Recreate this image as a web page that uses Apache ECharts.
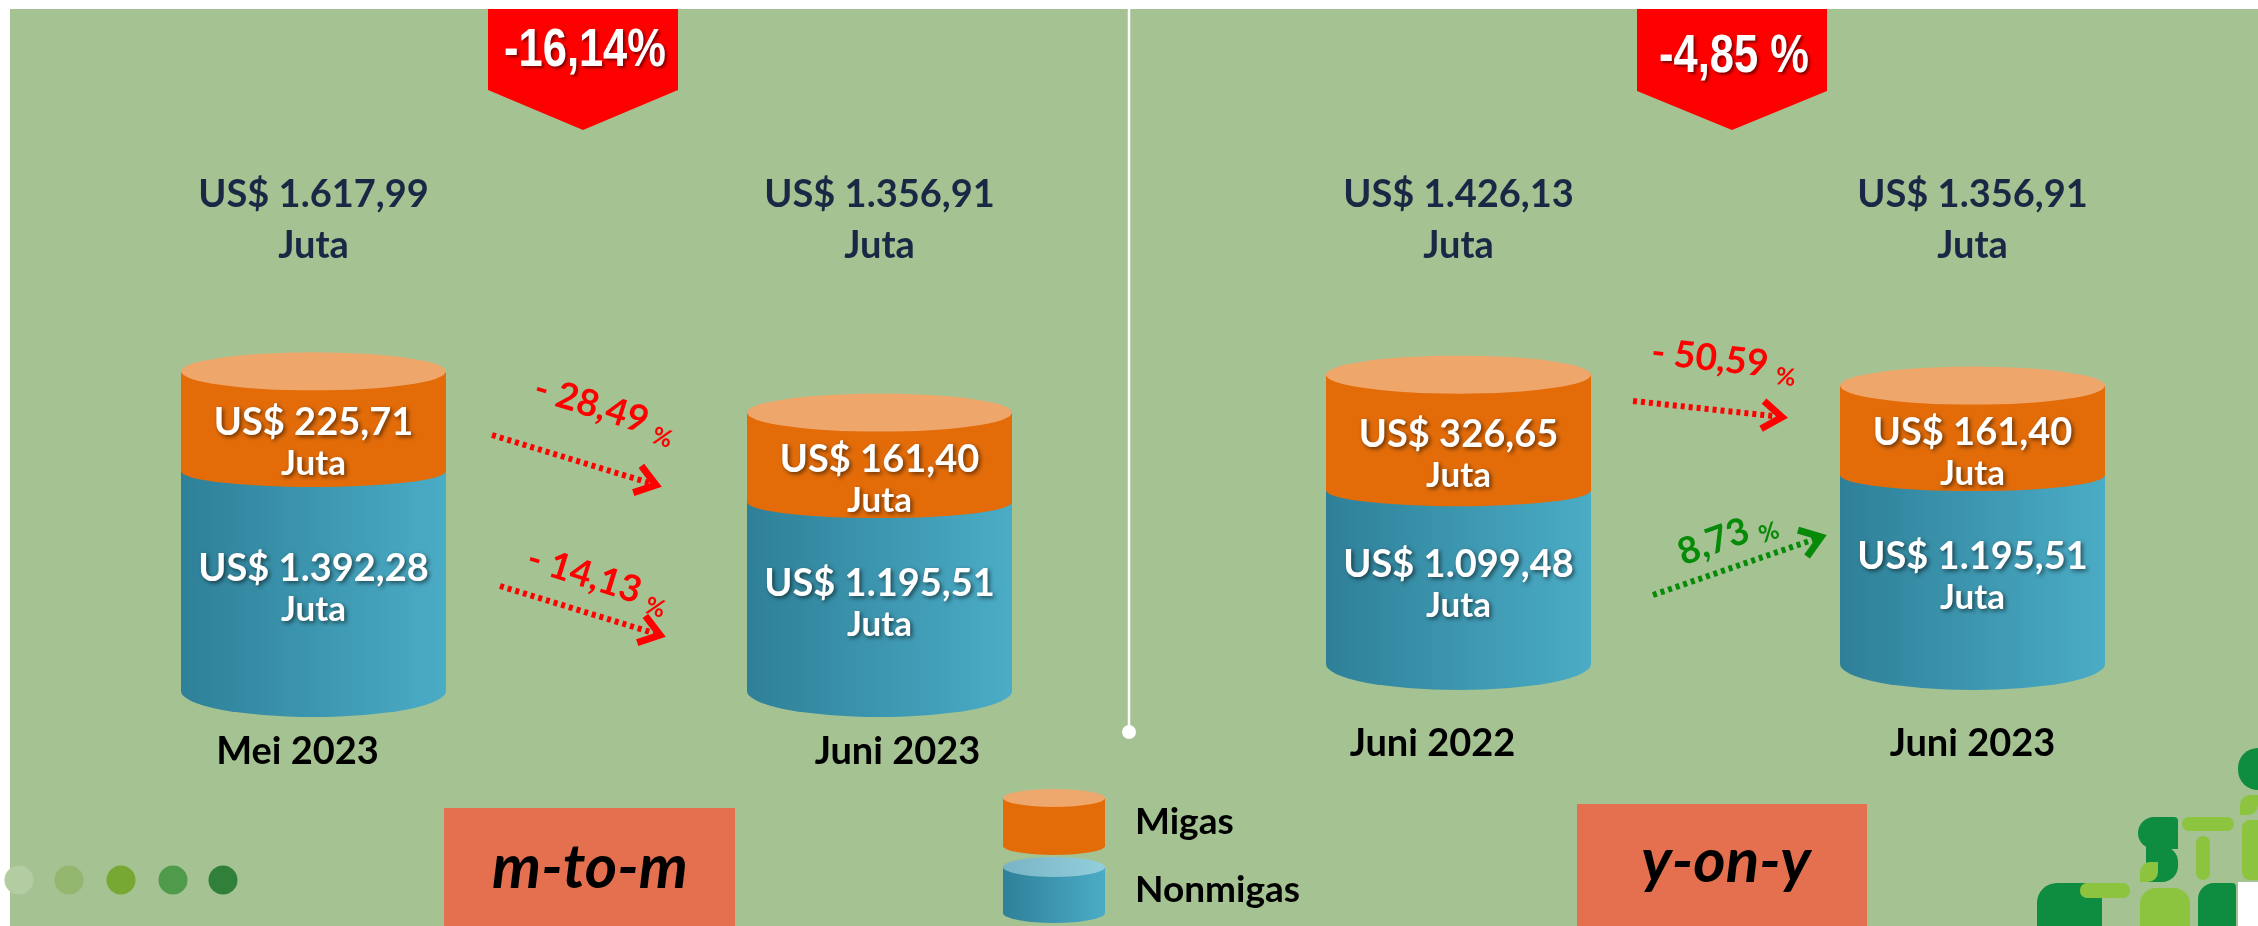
<!DOCTYPE html>
<html><head><meta charset="utf-8">
<script src="https://cdn.jsdelivr.net/npm/echarts@6/dist/echarts.min.js"></script>
<style>html,body{margin:0;padding:0;background:#fff}#c{width:2258px;height:926px}</style>
</head><body><div id="c"></div>
<script>
// ---------------- DATA ----------------
const categoriesLeft = ['Mei 2023', 'Juni 2023'];
const categoriesRight = ['Juni 2022', 'Juni 2023'];
const migasLeft = [225.71, 161.40];
const nonmigasLeft = [1392.28, 1195.51];
const totalLeft = [1617.99, 1356.91];
const migasRight = [326.65, 161.40];
const nonmigasRight = [1099.48, 1195.51];
const totalRight = [1426.13, 1356.91];
const totalChange = [-16.14, -4.85];      // m-to-m, y-on-y
const migasChange = [-28.49, -50.59];     // m-to-m, y-on-y
const nonmigasChange = [-14.13, 8.73];    // m-to-m, y-on-y
const seriesNames = ['Migas', 'Nonmigas'];
const panelNames = ['m-to-m', 'y-on-y'];
const unitLabel = 'Juta';
const currency = 'US$ ';

// ---------------- HELPERS ----------------
function fmtNum(v) {
  const parts = Math.abs(v).toFixed(2).split('.');
  const ip = parts[0].replace(/\B(?=(\d{3})+(?!\d))/g, '.');
  return (v < 0 ? '-' : '') + ip + ',' + parts[1];
}
const RX = 132.5, RY_TOP = 19, RY_MID = 16, RY_BOT = 26, CAP_PAD = 64;
const LABEL_FONT = 'bold 38px Lato', JUTA_FONT = 'bold 35px Lato';
const TOTAL_Y1 = 195, TOTAL_Y2 = 246;
const NAVY = '#1B2845';

function txt(text, x, y, font, fill, shadow) {
  const st = {text: text, x: x, y: y, font: font, fill: fill,
    align: 'center', verticalAlign: 'middle', textAlign: 'center', textVerticalAlign: 'middle'};
  if (shadow) {
    st.textShadowColor = 'rgba(0,0,0,0.55)'; st.textShadowBlur = 4;
    st.textShadowOffsetX = 2; st.textShadowOffsetY = 2;
  }
  return {type: 'text', style: st, z2: 10};
}
function blueGrad() {
  return new echarts.graphic.LinearGradient(0, 0, 1, 0, [
    {offset: 0, color: '#2E8098'}, {offset: 1, color: '#4BACC6'}]);
}

function nonmigasRender(params, api) {
  const i = api.value(0);
  const basePt = api.coord([i, 0]);
  const topPt = api.coord([i, api.value(1)]);
  const cx = basePt[0], base = basePt[1], top = topPt[1];
  const x1 = cx - RX, x2 = cx + RX;
  const mid = (top + base) / 2 + 8;
  return {type: 'group', children: [
    {type: 'path', shape: {pathData: 'M' + x1 + ',' + top + ' L' + x1 + ',' + base +
      ' A' + RX + ',' + RY_BOT + ' 0 0 0 ' + x2 + ',' + base + ' L' + x2 + ',' + top + ' Z'},
      style: {fill: blueGrad()}},
    txt(currency + fmtNum(api.value(1)), cx, mid - 20.5, LABEL_FONT, '#fff', true),
    txt(unitLabel, cx, mid + 20.5, JUTA_FONT, '#fff', true)
  ]};
}

function migasRender(params, api) {
  const i = api.value(0);
  const bndPt = api.coord([i, api.value(1)]);
  const totPt = api.coord([i, api.value(3)]);
  const cx = bndPt[0], bnd = bndPt[1], top = totPt[1] - CAP_PAD;
  const x1 = cx - RX, x2 = cx + RX;
  const mid = ((top + RY_TOP) + (bnd + RY_MID)) / 2 + 5;
  return {type: 'group', children: [
    {type: 'path', shape: {pathData: 'M' + x1 + ',' + top + ' L' + x1 + ',' + bnd +
      ' A' + RX + ',' + RY_MID + ' 0 0 0 ' + x2 + ',' + bnd + ' L' + x2 + ',' + top + ' Z'},
      style: {fill: '#E36C09'}},
    {type: 'path', shape: {pathData: 'M' + x1 + ',' + top + ' A' + RX + ',' + RY_TOP + ' 0 1 0 ' + x2 + ',' + top +
      ' A' + RX + ',' + RY_TOP + ' 0 1 0 ' + x1 + ',' + top + ' Z'},
      style: {fill: '#EEA66B'}},
    txt(currency + fmtNum(api.value(2)), cx, mid - 20.5, LABEL_FONT, '#fff', true),
    txt(unitLabel, cx, mid + 20.5, JUTA_FONT, '#fff', true),
    txt(currency + fmtNum(api.value(3)), cx, TOTAL_Y1, 'bold 38px Lato', NAVY, false),
    txt(unitLabel, cx, TOTAL_Y2, 'bold 38px Lato', NAVY, false)
  ]};
}

function svgIcon(svg) { return 'image://data:image/svg+xml;charset=utf-8,' + encodeURIComponent(svg); }
const migasIcon = svgIcon('<svg xmlns="http://www.w3.org/2000/svg" width="102" height="66" viewBox="0 0 102 66">' +
  '<path d="M0 9 L0 57 A51 9 0 0 0 102 57 L102 9 Z" fill="#E36C09"/>' +
  '<ellipse cx="51" cy="9" rx="51" ry="9" fill="#EEA76C"/></svg>');
const nonmigasIcon = svgIcon('<svg xmlns="http://www.w3.org/2000/svg" width="102" height="66" viewBox="0 0 102 66">' +
  '<defs><linearGradient id="g" x1="0" x2="1" y1="0" y2="0"><stop offset="0" stop-color="#2E8098"/><stop offset="1" stop-color="#4BACC6"/></linearGradient>' +
  '<linearGradient id="h" x1="0" x2="1" y1="0" y2="0"><stop offset="0" stop-color="#79B4C6"/><stop offset="1" stop-color="#93CEDC"/></linearGradient></defs>' +
  '<path d="M0 10 L0 56 A51 10 0 0 0 102 56 L102 10 Z" fill="url(#g)"/>' +
  '<ellipse cx="51" cy="10" rx="51" ry="10" fill="url(#h)"/></svg>');

// ---------------- DECORATION (graphic) ----------------
function arrow(x1, y1, x2, y2, color) {
  const ang = Math.atan2(y2 - y1, x2 - x1);
  const L = 24, sp = 0.62;
  const h1 = [x2 - L * Math.cos(ang - sp), y2 - L * Math.sin(ang - sp)];
  const h2 = [x2 - L * Math.cos(ang + sp), y2 - L * Math.sin(ang + sp)];
  return [
    {type: 'polyline', shape: {points: [[x1, y1], [x2 - 5 * Math.cos(ang), y2 - 5 * Math.sin(ang)]]},
      style: {stroke: color, lineWidth: 6, lineDash: [4, 4], fill: null}},
    {type: 'polyline', shape: {points: [h1, [x2, y2], h2]},
      style: {stroke: color, lineWidth: 7, fill: null, lineJoin: 'miter'}}
  ];
}
function changeLabel(v, x, y, rot, color) {
  const main = v < 0 ? '- ' + fmtNum(Math.abs(v)) : fmtNum(v);
  return {type: 'text', x: x, y: y, rotation: rot, style: {
    text: '{a|' + main + '} {b|%}', font: 'bold 37px Lato', fill: color,
    align: 'center', verticalAlign: 'middle', textAlign: 'center', textVerticalAlign: 'middle',
    rich: {a: {font: 'bold 37px Lato', fill: color, verticalAlign: 'bottom'},
           b: {font: 'bold 24px Lato', fill: color, verticalAlign: 'bottom', padding: [0, 0, -4, 0]}}}};
}
function badge(x1, x2, yb, tip, text, ty) {
  const cx = (x1 + x2) / 2;
  return [
    {type: 'polygon', shape: {points: [[x1, 9], [x2, 9], [x2, yb], [cx, tip], [x1, yb]]}, style: {fill: '#FF0000'}},
    {type: 'text', x: cx + 2, y: ty, scaleX: 0.82, style: {text: text, font: 'bold 53px "Liberation Sans"', fill: '#fff',
      align: 'center', verticalAlign: 'middle', textAlign: 'center', textVerticalAlign: 'middle',
      textShadowColor: 'rgba(80,0,0,0.75)', textShadowBlur: 3, textShadowOffsetX: 2, textShadowOffsetY: 2}}
  ];
}

let els = [];
els.push({type: 'rect', shape: {x: 10, y: 9, width: 2248, height: 917}, style: {fill: '#A5C292'}});
// divider
els.push({type: 'line', shape: {x1: 1129, y1: 0, x2: 1129, y2: 732}, style: {stroke: '#fff', lineWidth: 2.5}});
els.push({type: 'circle', shape: {cx: 1129, cy: 732, r: 7}, style: {fill: '#fff'}});
// badges
els = els.concat(badge(488, 678, 90, 130, fmtNum(totalChange[0]) + '%', 51));
els = els.concat(badge(1637, 1827, 91, 130, fmtNum(totalChange[1]) + ' %', 57));
// arrows
els = els.concat(arrow(492, 435, 656, 485, '#FF0000'));
els = els.concat(arrow(500, 586, 660, 635, '#FF0000'));
els = els.concat(arrow(1633, 401, 1782, 417, '#FF0000'));
els = els.concat(arrow(1653, 595, 1821, 537, '#078A07'));
els.push(changeLabel(migasChange[0], 605, 409, -0.30, '#FF0000'));
els.push(changeLabel(nonmigasChange[0], 598, 579, -0.30, '#FF0000'));
els.push(changeLabel(migasChange[1], 1724, 360, -0.11, '#FF0000'));
els.push(changeLabel(nonmigasChange[1], 1727, 537, 0.35, '#078A07'));
// panel name boxes
els.push({type: 'rect', shape: {x: 444, y: 808, width: 291, height: 118}, style: {fill: '#E5704F'}});
els.push({type: 'text', x: 590, y: 868, style: {text: panelNames[0], font: 'italic bold 62px Lato', fill: '#000',
  align: 'center', verticalAlign: 'middle', textAlign: 'center', textVerticalAlign: 'middle'}});
els.push({type: 'rect', shape: {x: 1577, y: 804, width: 290, height: 122}, style: {fill: '#E5704F'}});
els.push({type: 'text', x: 1726, y: 862, style: {text: panelNames[1], font: 'italic bold 62px Lato', fill: '#000',
  align: 'center', verticalAlign: 'middle', textAlign: 'center', textVerticalAlign: 'middle'}});
// dots
const dotColors = ['#B3CCA2', '#93B76F', '#76A833', '#4F9B4B', '#31803A'];
const dotX = [19, 69, 121, 173, 223];
dotX.forEach(function (x, k) {
  els.push({type: 'circle', shape: {cx: x, cy: 880, r: 14.5}, style: {fill: dotColors[k]}});
});
// logo approximation
const DG = '#0E8C3F', LG = '#8CC43F';
[
  [2138, 817, 40, 32, [16, 4, 0, 16], DG], [2146, 846, 32, 36, [0, 16, 16, 4], DG],
  [2182, 817, 52, 14, 7, LG], [2196, 836, 14, 44, 7, LG], [2140, 862, 18, 20, [10, 0, 10, 0], LG],
  [2238, 748, 30, 42, [20, 0, 0, 20], DG], [2240, 795, 18, 20, [10, 0, 10, 0], LG], [2242, 820, 16, 60, [8, 0, 0, 8], LG],
  [2037, 883, 65, 43, [20, 4, 0, 0], DG], [2080, 883, 50, 15, 7, LG], [2140, 888, 50, 38, [16, 16, 0, 0], LG],
  [2198, 883, 38, 43, [16, 4, 0, 0], DG], [2238, 882, 20, 44, 0, '#FFFFFF']
].forEach(function (r) {
  els.push({type: 'rect', shape: {x: r[0], y: r[1], width: r[2], height: r[3], r: r[4]}, style: {fill: r[5]}});
});

// ---------------- CHART ----------------
const catLabelStyle = {fontFamily: 'Lato', fontWeight: 'bold', fontSize: 38, color: '#000'};
function richShift(shifts) {
  const rich = {};
  shifts.forEach(function (s, k) {
    rich['s' + k] = Object.assign({padding: s < 0 ? [0, -2 * s, 0, 0] : [0, 0, 0, 2 * s]}, catLabelStyle);
  });
  return rich;
}
const chart = echarts.init(document.getElementById('c'), null, {renderer: 'canvas'});
chart.setOption({
  animation: false,
  backgroundColor: '#FFFFFF',
  graphic: {elements: els},
  legend: {
    orient: 'vertical', left: 1003, top: 789, padding: 0, itemGap: 2,
    itemWidth: 102, itemHeight: 66, selectedMode: false,
    data: [{name: seriesNames[0], icon: migasIcon}, {name: seriesNames[1], icon: nonmigasIcon}],
    textStyle: {fontFamily: 'Lato', fontWeight: 'bold', fontSize: 37, color: '#000', padding: [0, 0, 0, 25]}
  },
  grid: [
    {left: 30.5, width: 1132, top: 375, height: 316},
    {left: 1201.5, width: 1028, top: 348, height: 316}
  ],
  xAxis: [
    {type: 'category', gridIndex: 0, data: categoriesLeft, axisLine: {show: false}, axisTick: {show: false},
      axisLabel: Object.assign({margin: 42, formatter: function (v, k) { return '{s' + k + '|' + v + '}'; },
        rich: richShift([-16, 18])}, catLabelStyle)},
    {type: 'category', gridIndex: 1, data: categoriesRight, axisLine: {show: false}, axisTick: {show: false},
      axisLabel: Object.assign({margin: 61, formatter: function (v, k) { return '{s' + k + '|' + v + '}'; },
        rich: richShift([-26, 0])}, catLabelStyle)}
  ],
  yAxis: [
    {type: 'value', gridIndex: 0, min: 0, max: 2000, show: false},
    {type: 'value', gridIndex: 1, min: 0, max: 2000, show: false}
  ],
  series: [
    {name: seriesNames[1], type: 'custom', xAxisIndex: 0, yAxisIndex: 0, renderItem: nonmigasRender, z: 2,
      itemStyle: {color: '#3C98B2'},
      data: nonmigasLeft.map(function (v, i) { return [i, v]; })},
    {name: seriesNames[1], type: 'custom', xAxisIndex: 1, yAxisIndex: 1, renderItem: nonmigasRender, z: 2,
      itemStyle: {color: '#3C98B2'},
      data: nonmigasRight.map(function (v, i) { return [i, v]; })},
    {name: seriesNames[0], type: 'custom', xAxisIndex: 0, yAxisIndex: 0, renderItem: migasRender, z: 3,
      itemStyle: {color: '#E36C09'},
      data: migasLeft.map(function (v, i) { return [i, nonmigasLeft[i], v, totalLeft[i]]; })},
    {name: seriesNames[0], type: 'custom', xAxisIndex: 1, yAxisIndex: 1, renderItem: migasRender, z: 3,
      itemStyle: {color: '#E36C09'},
      data: migasRight.map(function (v, i) { return [i, nonmigasRight[i], v, totalRight[i]]; })}
  ]
});
</script></body></html>
